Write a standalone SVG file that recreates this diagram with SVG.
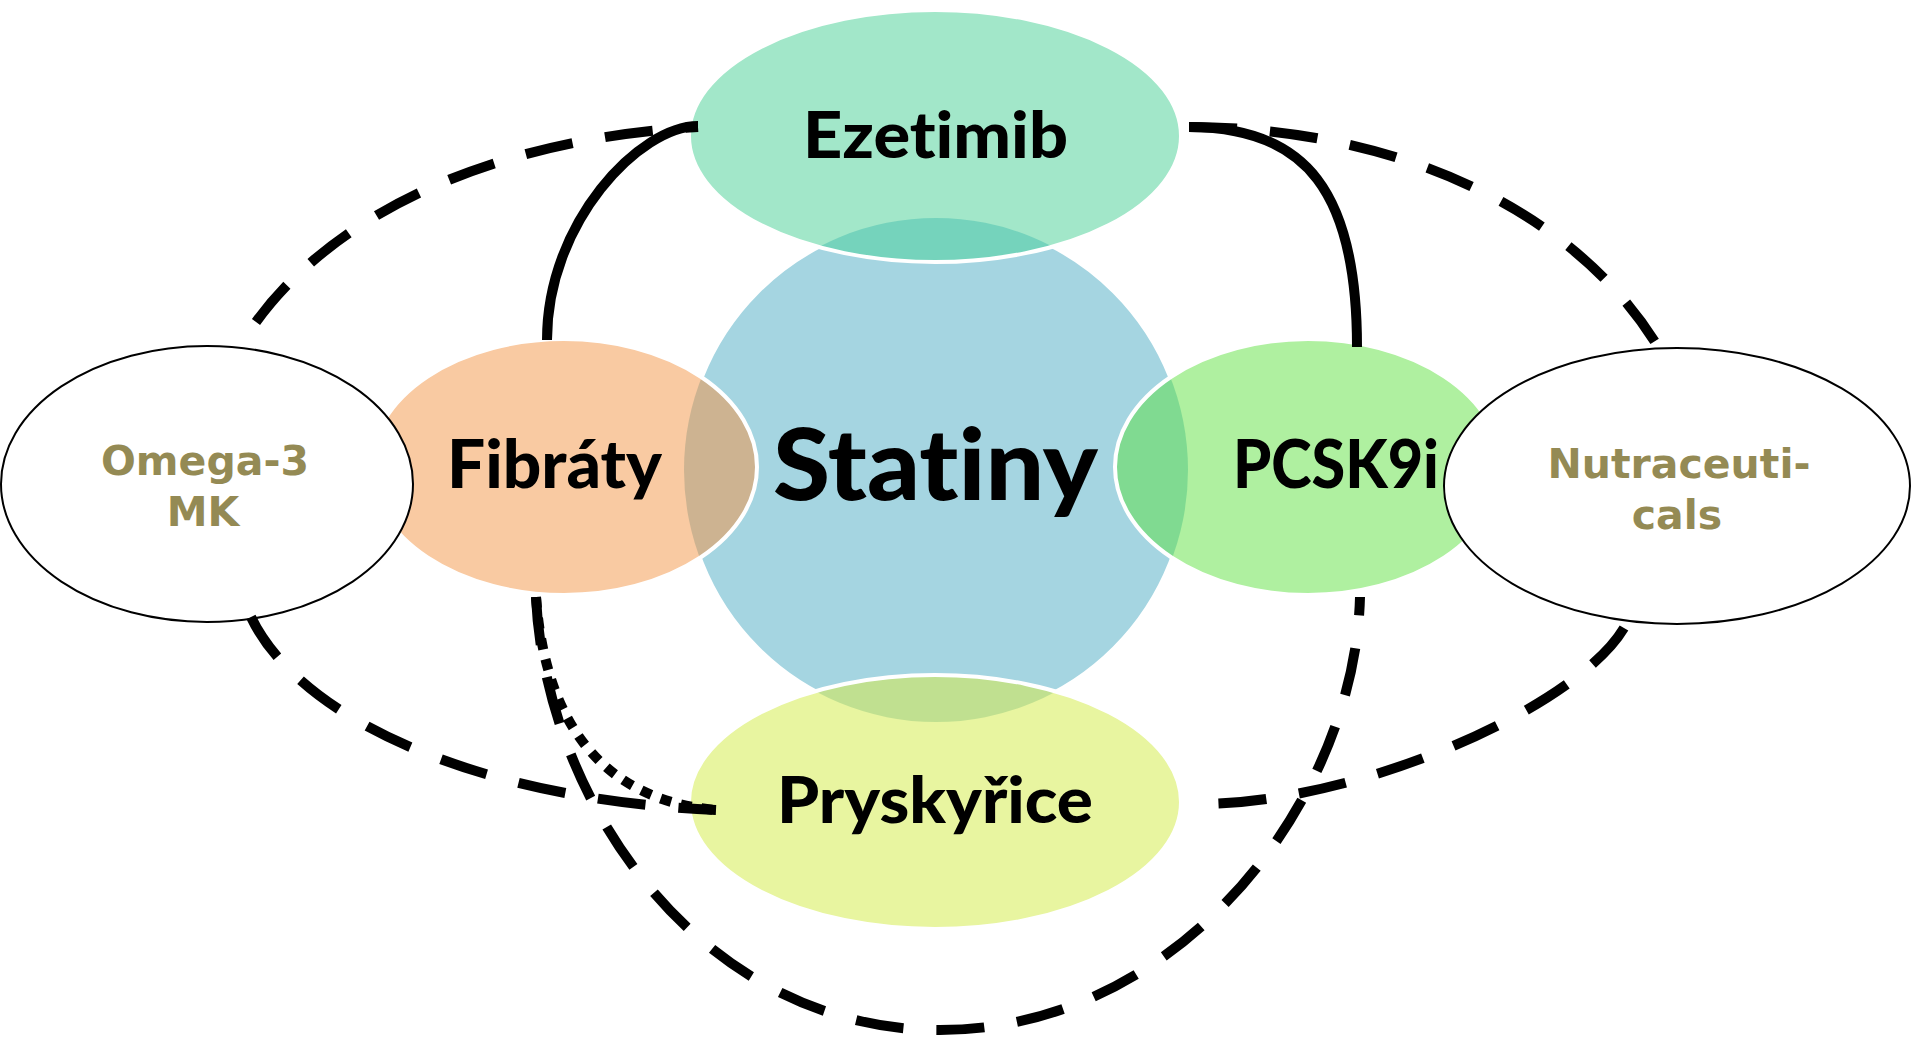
<svg xmlns="http://www.w3.org/2000/svg" width="1913" height="1037" viewBox="0 0 1913 1037">
<style>
.ring{fill:none;stroke:#ffffff;stroke-width:4}
.lbl{font-family:Lato,"Open Sans","Liberation Sans",sans-serif;font-weight:900;fill:#000;text-anchor:middle;font-variant-ligatures:none;font-feature-settings:"liga" 0,"clig" 0}
.side{font-family:"DejaVu Sans","Liberation Sans",sans-serif;font-weight:bold;font-size:41px;fill:#948A54;text-anchor:middle}
.outer{fill:#ffffff;stroke:#000;stroke-width:2}
.solid{fill:none;stroke:#000;stroke-width:10}
.dash{fill:none;stroke:#000;stroke-width:10;stroke-dasharray:48 33}
.dot{fill:none;stroke:#000;stroke-width:10;stroke-dasharray:11 10}
</style>
<defs>
<clipPath id="clipS"><circle cx="936" cy="470" r="252"/></clipPath>
</defs>
<rect width="1913" height="1037" fill="#ffffff"/>
<g id="statiny">
<circle cx="936" cy="470" r="252" fill="#a5d5e1"/>
<circle cx="936" cy="470" r="252" class="ring"/>
<text class="lbl" x="935.5" y="500" font-size="100" textLength="325" lengthAdjust="spacingAndGlyphs">Statiny</text>
</g>
<g id="ezetimib">
<ellipse cx="935" cy="136" rx="246" ry="126" fill="#a2e7c9"/>
<ellipse cx="935" cy="136" rx="246" ry="126" fill="#75d3bc" clip-path="url(#clipS)"/>
<ellipse cx="935" cy="136" rx="246" ry="126" class="ring"/>
<text class="lbl" x="935.5" y="158" font-size="65" textLength="265" lengthAdjust="spacingAndGlyphs">Ezetimib</text>
</g>
<g id="fibraty">
<ellipse cx="564" cy="467" rx="193" ry="128" fill="#f9caa2"/>
<ellipse cx="564" cy="467" rx="193" ry="128" fill="#cdb391" clip-path="url(#clipS)"/>
<ellipse cx="564" cy="467" rx="193" ry="128" class="ring"/>
<text class="lbl" x="554.5" y="488" font-size="67" textLength="215" lengthAdjust="spacingAndGlyphs">Fibráty</text>
</g>
<g id="pcsk9i">
<ellipse cx="1308" cy="467" rx="193" ry="128" fill="#aff0a0"/>
<ellipse cx="1308" cy="467" rx="193" ry="128" fill="#80da91" clip-path="url(#clipS)"/>
<ellipse cx="1308" cy="467" rx="193" ry="128" class="ring"/>
<text class="lbl" x="1336" y="488" font-size="67" textLength="206" lengthAdjust="spacingAndGlyphs">PCSK9i</text>
</g>
<g id="pryskyrice">
<ellipse cx="935" cy="802" rx="246" ry="127" fill="#e8f5a0"/>
<ellipse cx="935" cy="802" rx="246" ry="127" fill="#c0e090" clip-path="url(#clipS)"/>
<ellipse cx="935" cy="802" rx="246" ry="127" class="ring"/>
<text class="lbl" x="935" y="823" font-size="65" textLength="316" lengthAdjust="spacingAndGlyphs">Pryskyřice</text>
</g>
<g id="omega3">
<ellipse cx="207" cy="484" rx="206" ry="138" class="outer"/>
<text class="side" x="205" y="475">Omega-3</text>
<text class="side" x="203" y="526">MK</text>
</g>
<g id="nutraceuticals">
<ellipse cx="1677" cy="486" rx="233" ry="138" class="outer"/>
<text class="side" x="1679" y="478">Nutraceuti-</text>
<text class="side" x="1677" y="529">cals</text>
</g>
<g id="connectors">
<path class="solid" d="M547 340 C547 222 640 126 698 126"/>
<path class="solid" d="M1189 127 C1307 127 1357 193 1357 347"/>
<path class="dash" d="M256 322 C330 220 480 140 698 127"/>
<path class="dash" d="M1189 127 C1380 127 1570 200 1660 350"/>
<path class="dash" d="M251 617 C300 720 480 800 716 810"/>
<path class="dash" d="M1624 628 C1578 705 1370 800 1207 804"/>
<path class="dash" d="M536 597 C545 800 700 1030 940 1030 C1180 1030 1355 800 1360 597"/>
<path class="dot" d="M536 597 C545 720 600 800 716 810"/>
</g>
</svg>
